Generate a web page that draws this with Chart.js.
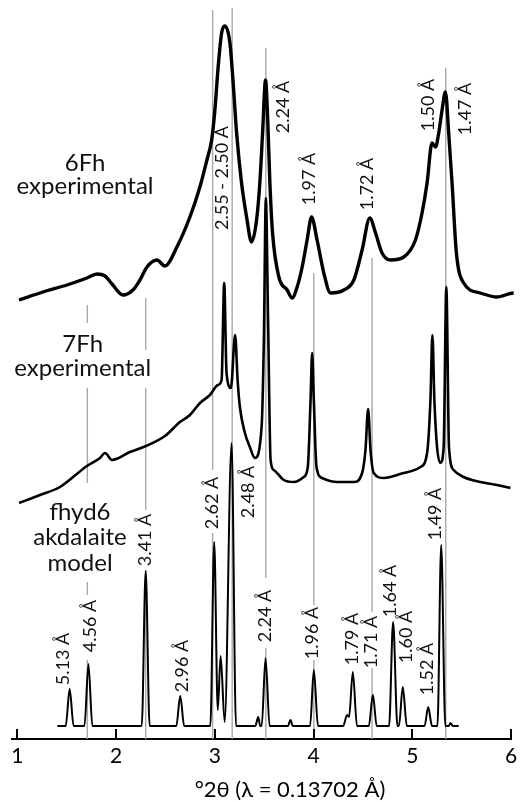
<!DOCTYPE html>
<html>
<head>
<meta charset="utf-8">
<script src="https://cdn.jsdelivr.net/npm/chart.js@4"></script>
<style>
html,body{margin:0;padding:0;background:#fff;}
#wrap{width:528px;height:802px;}
</style>
</head>
<body>
<div id="wrap"><canvas id="c" width="528" height="802"></canvas></div>
<script>
// ---- data (x = °2θ, y = intensity in arbitrary stacked units) ----
const xTicks = [1, 2, 3, 4, 5, 6];

const fh6X = [1.017,1.260,1.503,1.705,1.807,1.888,1.959,2.070,2.171,2.242,2.313,2.414,2.495,2.616,2.748,2.849,2.920,2.968,3.001,3.034,3.069,3.102,3.153,3.186,3.221,3.271,3.322,3.372,3.423,3.456,3.484,3.514,3.535,3.558,3.585,3.649,3.733,3.783,3.834,3.885,3.935,3.980,4.036,4.104,4.172,4.307,4.408,4.492,4.570,4.628,4.694,4.779,4.914,5.032,5.099,5.150,5.200,5.235,5.268,5.302,5.336,5.369,5.403,5.447,5.521,5.690,5.858,6.027,6.159];
const fh6Y = [439,447,454,461,465,463,455,444,449,459,472,479,473,492,522,552,579,599,629,672,706,713,696,656,606,556,522,497,519,556,606,659,622,556,506,462,449,441,452,472,499,522,499,466,446,449,459,489,521,506,486,479,482,499,526,556,596,592,606,629,647,606,556,486,456,446,442,446,446];

const fh7X = [1.017,1.230,1.432,1.705,1.837,1.888,1.959,2.141,2.303,2.495,2.647,2.748,2.850,2.951,3.031,3.069,3.095,3.119,3.163,3.206,3.231,3.254,3.305,3.355,3.406,3.474,3.497,3.517,3.540,3.565,3.598,3.699,3.800,3.901,3.942,3.970,3.986,4.003,4.030,4.087,4.239,4.408,4.492,4.526,4.553,4.577,4.610,4.711,4.913,5.083,5.150,5.184,5.204,5.224,5.251,5.285,5.318,5.345,5.372,5.419,5.520,5.690,5.858,5.994];
const fh7Y = [236,244,252,273,281,286,279,287,293,303,317,324,336,344,354,359,456,366,351,404,359,332,306,292,281,312,399,541,416,279,269,259,257,262,272,339,386,339,272,261,257,257,266,289,330,289,266,261,266,272,286,339,404,339,292,276,292,452,292,269,262,257,254,251];

const modelX = [1.405,1.49,1.53,1.57,1.68,1.72,1.76,2.26,2.30,2.34,2.61,2.65,2.69,2.955,2.994,3.03,3.059,3.10,3.170,3.215,3.41,3.44,3.46,3.475,3.514,3.555,3.74,3.767,3.79,3.965,4.003,4.045,4.30,4.34,4.36,4.398,4.44,4.56,4.601,4.64,4.765,4.806,4.85,4.865,4.904,4.945,5.125,5.161,5.20,5.255,5.293,5.335,5.37,5.388,5.41,5.47];
const modelY = [13,13,50,13,13,75,13,13,168,13,13,43,13,13,197,29,83,17,296,13,13,22,13,13,81,13,13,19,13,13,69,13,13,24,22,67,13,13,44,13,13,117,13,13,52,13,13,32,13,13,194,13,13,16,13,13];

// reference (grey) lines: position and visible intensity spans
const refLineX = [1.709, 2.30, 2.978, 3.176, 3.517, 4.003, 4.593, 5.339];
const refLineSpans = [
  [[416,434],[256,351],[144,157],[0,79]],
  [[389,441],[229,351],[0,169]],
  [[269,729],[0,206]],
  [[0,731]],
  [[161,691],[0,91]],
  [[134,466],[0,79]],
  [[127,481],[0,71]],
  [[0,671]]
];

// d-spacing labels
const peakLabelText = ["2.55 - 2.50 Å","2.24 Å","1.97 Å","1.72 Å","1.50 Å","1.47 Å","2.62 Å","2.48 Å","3.41 Å","5.13 Å","4.56 Å","2.96 Å","2.24 Å","1.96 Å","1.79 Å","1.71 Å","1.64 Å","1.60 Å","1.52 Å","1.49 Å"];
const peakLabelX = [3.079,3.692,3.952,4.543,5.157,5.538,2.971,3.335,2.293,1.466,1.736,2.674,3.514,3.986,4.391,4.583,4.779,4.941,5.150,5.235];
const peakLabelY = [561,632,560,555,634,630,236,247,199,80,113,73,123,106,100,97,148,102,70,225];

// sample names
const sampleLines = [["6Fh","experimental"],["7Fh","experimental"],["fhyd6","akdalaite","model"]];
const sampleX = [1.686, 1.662, 1.635];
const sampleBaselineY = [[568,545],[387,363],[219,194,168]];

const xTitle = "°2θ (λ = 0.13702 Å)";

// ---- chart ----
Chart.defaults.font.family = "Lato, 'Open Sans', sans-serif";
Chart.defaults.color = "#000";

function pts(xs, ys){ return xs.map((x,i)=>({x:x, y:ys[i]})); }

const overlay = {
  id: 'overlay',
  beforeDatasetsDraw(chart){
    const {ctx, scales:{x, y}} = chart;
    ctx.save();
    ctx.strokeStyle = '#a8a8a8';
    ctx.lineWidth = 1.4;
    refLineX.forEach((v,i)=>{
      const px = x.getPixelForValue(v);
      refLineSpans[i].forEach(s=>{
        ctx.beginPath();
        ctx.moveTo(px, y.getPixelForValue(s[0]));
        ctx.lineTo(px, y.getPixelForValue(s[1]));
        ctx.stroke();
      });
    });
    ctx.restore();
  },
  afterDatasetsDraw(chart){
    const {ctx, scales:{x, y}} = chart;
    ctx.save();
    ctx.fillStyle = '#111';
    ctx.font = "18px Lato";
    ctx.textAlign = 'center';
    ctx.textBaseline = 'middle';
    peakLabelText.forEach((t,i)=>{
      ctx.save();
      ctx.translate(x.getPixelForValue(peakLabelX[i]), y.getPixelForValue(peakLabelY[i]));
      ctx.rotate(-Math.PI/2);
      ctx.fillText(t, 0, 0);
      ctx.restore();
    });
    ctx.font = "24px Lato";
    ctx.textBaseline = 'alphabetic';
    sampleLines.forEach((lines,i)=>{
      lines.forEach((t,j)=>{
        ctx.fillText(t, x.getPixelForValue(sampleX[i]), y.getPixelForValue(sampleBaselineY[i][j]));
      });
    });
    ctx.restore();
  },
  afterDraw(chart){
    const {ctx, chartArea, scales:{x}} = chart;
    ctx.save();
    ctx.strokeStyle = '#000';
    ctx.lineWidth = 2;
    xTicks.forEach(v=>{
      const px = Math.round(x.getPixelForValue(v));
      ctx.beginPath();
      ctx.moveTo(px, chartArea.bottom);
      ctx.lineTo(px, chartArea.bottom - 10);
      ctx.stroke();
    });
    ctx.fillStyle = '#000';
    ctx.font = "22px Lato";
    ctx.textAlign = 'center';
    ctx.textBaseline = 'middle';
    ctx.fillText(xTitle, 290, 790);
    ctx.restore();
  }
};

new Chart(document.getElementById('c'), {
  type: 'line',
  data: {
    datasets: [
      {label:'fhyd6 akdalaite model', data: pts(modelX, modelY), borderColor:'#000', borderWidth:2, pointRadius:0, cubicInterpolationMode:'monotone', fill:false},
      {label:'7Fh experimental', data: pts(fh7X, fh7Y), borderColor:'#000', borderWidth:2.6, pointRadius:0, cubicInterpolationMode:'monotone', fill:false},
      {label:'6Fh experimental', data: pts(fh6X, fh6Y), borderColor:'#000', borderWidth:3.4, pointRadius:0, cubicInterpolationMode:'monotone', fill:false, clip:false}
    ]
  },
  options: {
    responsive: false,
    animation: false,
    // x-axis block = 2*padding(7) + label(21) = 35; 802 - 28 - 35 = 739 (chart bottom)
    layout: {padding: {left: 12, right: 17, top: 0, bottom: 28}},
    plugins: {legend: {display:false}, tooltip: {enabled:false}},
    scales: {
      x: {
        type: 'linear', min: 0.946, max: 6,
        grid: {display:false, drawTicks:false},
        border: {display:true, color:'#000', width:2},
        afterBuildTicks: (s)=>{ s.ticks = xTicks.map(v=>({value:v})); },
        ticks: {padding: 7, font: {size: 21, lineHeight: 1}, color:'#000', maxRotation:0}
      },
      y: {
        type: 'linear', min: 0, max: 739, display: false
      }
    }
  },
  plugins: [overlay]
});
</script>
</body>
</html>
